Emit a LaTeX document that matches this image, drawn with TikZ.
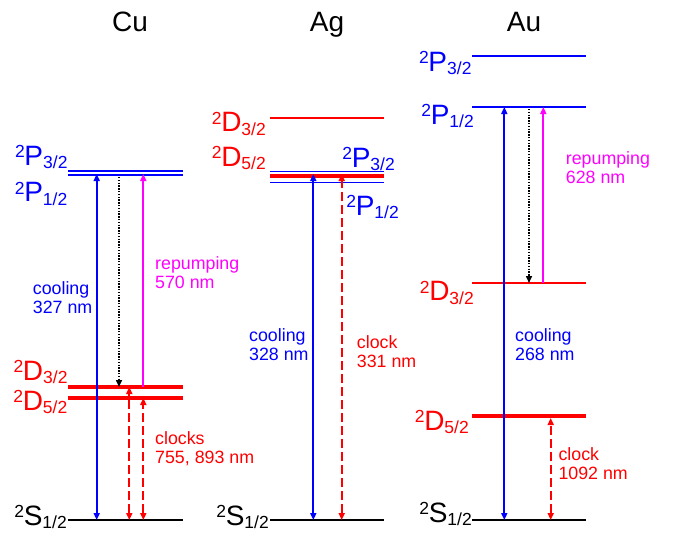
\documentclass[tikz,border=0pt]{standalone}
\usepackage{fontspec}
\setmainfont{Liberation Sans}
\usetikzlibrary{arrows.meta}
\definecolor{mag}{RGB}{255,0,255}
\newcommand{\lv}[3]{\raisebox{7.5pt}{\fontsize{17.5}{18}\selectfont #1}\kern-0.3pt{\fontsize{28}{30}\selectfont #2}\raisebox{-3.5pt}{\fontsize{17.5}{18}\selectfont #3}}
\begin{document}
\begin{tikzpicture}[x=1pt,y=-1pt,
  >={Triangle[length=7pt,width=6pt]},
  lvline/.style={line width=2pt},
  lvthick/.style={line width=4pt},
  lab/.style={inner sep=0pt,anchor=base east},
  title/.style={inner sep=0pt,anchor=base,font=\fontsize{28}{30}\selectfont},
  txt/.style={inner sep=0pt,anchor=base west,align=left,font=\fontsize{17.8}{18.8}\selectfont},
  arrw/.style={line width=1.9pt},
  cool/.style={arrw,blue,<->},
  rep/.style={arrw,mag,->},
  decay/.style={arrw,black,->,line width=1.5pt,dash pattern=on 1.4pt off 1.4pt},
  clockarr/.style={arrw,red,<->,dash pattern=on 9pt off 4pt}]
\useasboundingbox (0,0) rectangle (678,533);
% titles
\node[title] (tCu) at (130,31) {Cu};
\node[title] (tAg) at (327,31) {Ag};
\node[title] (tAu) at (524,31) {Au};
% ---------- Cu ----------
\coordinate (CuS) at (68,520);  \coordinate (CuSr) at (183,520);
\coordinate (CuP3) at (68,171); \coordinate (CuP3r) at (183,171);
\coordinate (CuP1) at (68,175); \coordinate (CuP1r) at (183,175);
\coordinate (CuD3) at (68,387);  \coordinate (CuD3r) at (183,387);
\coordinate (CuD5) at (68,398);  \coordinate (CuD5r) at (183,398);
\draw[lvline,black] (CuS) -- (CuSr);
\draw[lvline,blue,line width=1.6pt] (CuP3) -- (CuP3r);
\draw[lvline,blue,line width=1.6pt] (CuP1) -- (CuP1r);
\draw[lvthick,red] (CuD3) -- (CuD3r);
\draw[lvthick,red] (CuD5) -- (CuD5r);
\node[lab,blue] (lCuP3) at (67.7,165) {\lv{2}{P}{3/2}};
\node[lab,blue] (lCuP1) at (67.5,201.5) {\lv{2}{P}{1/2}};
\node[lab,red] (lCuD3) at (67.7,380) {\lv{2}{D}{3/2}};
\node[lab,red] (lCuD5) at (67.5,410) {\lv{2}{D}{5/2}};
\node[lab] (lCuS) at (67,525) {\lv{2}{S}{1/2}};
\draw[cool] ([xshift=28.7pt]CuS) -- ([xshift=28.7pt,yshift=1pt]CuP1);
\draw[decay] ([xshift=51pt,yshift=-2pt]CuP1) -- ([xshift=51pt]CuD3);
\draw[rep] ([xshift=75.3pt]CuD3) -- ([xshift=75.3pt,yshift=1pt]CuP1);
\draw[clockarr] ([xshift=61.3pt]CuS) -- ([xshift=61.3pt]CuD3);
\draw[clockarr] ([xshift=75.3pt]CuS) -- ([xshift=75.3pt]CuD5);
\node[txt,blue] (cCool) at (32.7,313) {cooling\\327 nm};
\node[txt,mag] (cRep) at (155,288) {repumping\\570 nm};
\node[txt,red] (cClock) at (155,463) {clocks\\755, 893 nm};
% ---------- Ag ----------
\coordinate (AgS) at (270,520);  \coordinate (AgSr) at (384,520);
\coordinate (AgD3) at (270,118); \coordinate (AgD3r) at (384,118);
\coordinate (AgP3) at (270,171.5); \coordinate (AgP3r) at (384,171.5);
\coordinate (AgD5) at (270,176);   \coordinate (AgD5r) at (384,176);
\coordinate (AgP1) at (270,182.5); \coordinate (AgP1r) at (384,182.5);
\draw[lvline,black] (AgS) -- (AgSr);
\draw[lvline,red] (AgD3) -- (AgD3r);
\draw[lvline,blue,line width=1.6pt] (AgP3) -- (AgP3r);
\draw[lvthick,red,line width=3.6pt] (AgD5) -- (AgD5r);
\draw[lvline,blue,line width=1.6pt] (AgP1) -- (AgP1r);
\node[lab,red] (lAgD3) at (266,131.7) {\lv{2}{D}{3/2}};
\node[lab,red] (lAgD5) at (266,166) {\lv{2}{D}{5/2}};
\node[lab,blue] (lAgP3) at (395,167) {\lv{2}{P}{3/2}};
\node[lab,blue] (lAgP1) at (399,215) {\lv{2}{P}{1/2}};
\node[lab] (lAgS) at (269,525) {\lv{2}{S}{1/2}};
\draw[cool] ([xshift=43.3pt]AgS) -- ([xshift=43.3pt,yshift=2pt]AgD5);
\draw[clockarr] ([xshift=71.7pt]AgS) -- ([xshift=71.7pt,yshift=2pt]AgD5);
\node[txt,blue] (aCool) at (249,360) {cooling\\328 nm};
\node[txt,red] (aClock) at (356.7,367.3) {clock\\331 nm};
% ---------- Au ----------
\coordinate (AuS) at (472,520);  \coordinate (AuSr) at (586,520);
\coordinate (AuP3) at (472,56);    \coordinate (AuP3r) at (586,56);
\coordinate (AuP1) at (472,107);   \coordinate (AuP1r) at (586,107);
\coordinate (AuD3) at (472,283); \coordinate (AuD3r) at (586,283);
\coordinate (AuD5) at (472,416);   \coordinate (AuD5r) at (586,416);
\draw[lvline,black] (AuS) -- (AuSr);
\draw[lvline,blue] (AuP3) -- (AuP3r);
\draw[lvline,blue] (AuP1) -- (AuP1r);
\draw[lvline,red] (AuD3) -- (AuD3r);
\draw[lvthick,red] (AuD5) -- (AuD5r);
\node[lab,blue] (lAuP3) at (471.7,71) {\lv{2}{P}{3/2}};
\node[lab,blue] (lAuP1) at (474,124) {\lv{2}{P}{1/2}};
\node[lab,red] (lAuD3) at (474,300.7) {\lv{2}{D}{3/2}};
\node[lab,red] (lAuD5) at (469,430) {\lv{2}{D}{5/2}};
\node[lab] (lAuS) at (472,522) {\lv{2}{S}{1/2}};
\draw[cool] ([xshift=32.3pt]AuS) -- ([xshift=32.3pt]AuP1);
\draw[decay] ([xshift=57pt,yshift=-2pt]AuP1) -- ([xshift=57pt]AuD3);
\draw[rep] ([xshift=71.3pt]AuD3) -- ([xshift=71.3pt]AuP1);
\draw[clockarr] ([xshift=78.7pt]AuS) -- ([xshift=78.7pt,yshift=-2pt]AuD5);
\node[txt,mag] (uRep) at (565.7,183.3) {repumping\\628 nm};
\node[txt,blue] (uCool) at (515,360) {cooling\\268 nm};
\node[txt,red] (uClock) at (558.3,479.3) {clock\\1092 nm};
\end{tikzpicture}
\end{document}
